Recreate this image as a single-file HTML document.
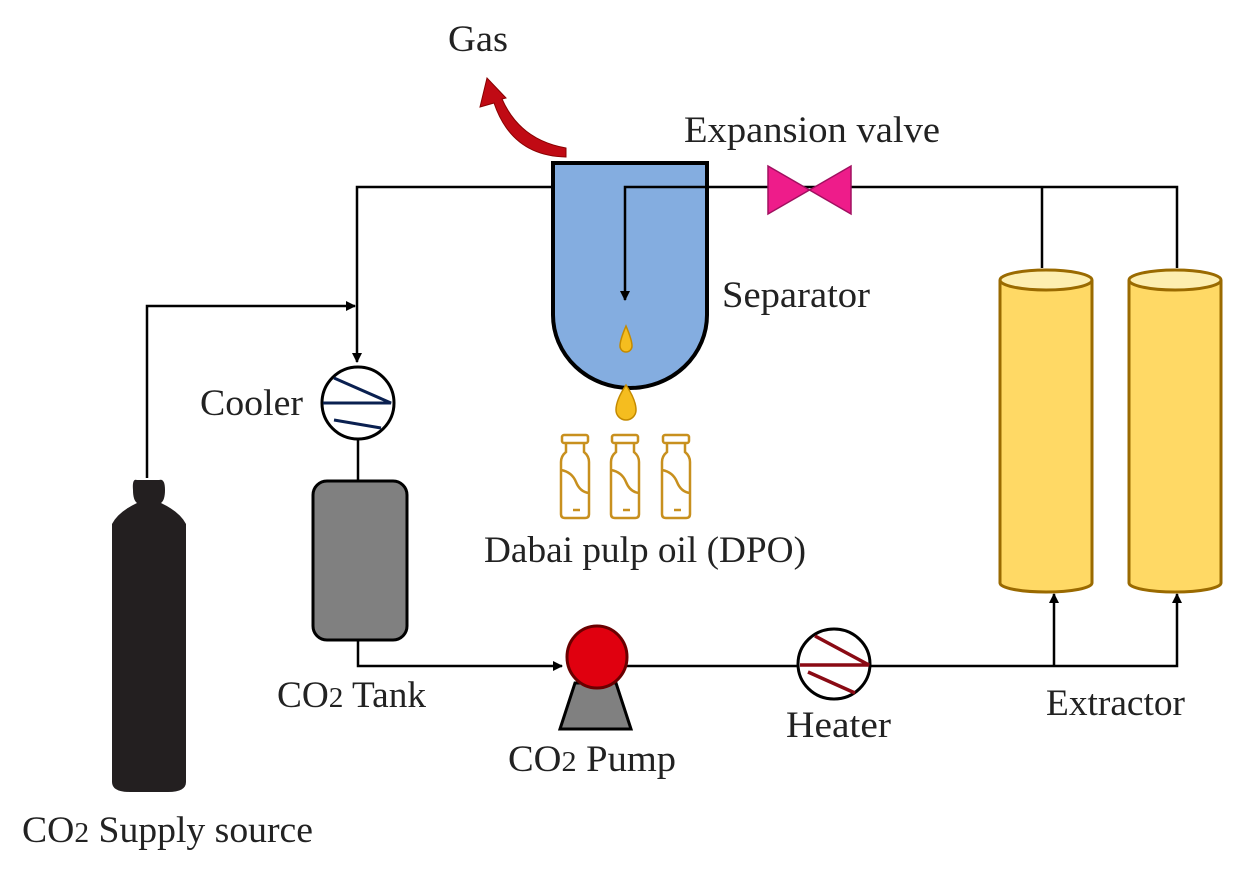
<!DOCTYPE html>
<html><head><meta charset="utf-8"><style>
html,body{margin:0;padding:0;background:#fff;}
svg{display:block;}
text{font-family:"Liberation Serif",serif;fill:#222;}
</style></head><body>
<svg width="1256" height="874" viewBox="0 0 1256 874" xmlns="http://www.w3.org/2000/svg">
<defs>
<marker id="ah" markerWidth="10" markerHeight="10" refX="9" refY="5" orient="auto" markerUnits="userSpaceOnUse"><path d="M0,0 L10,5 L0,10 Z" fill="#000"/></marker>
</defs>
<g stroke="#000" stroke-width="2.5" fill="none">
<path d="M553,187 H357 V362" marker-end="url(#ah)"/>
<path d="M707,187 H1177 V268"/>
<path d="M1042,187 V268"/>
<path d="M147,478 V306 H355" marker-end="url(#ah)"/>
<path d="M358,440 V482"/>
<path d="M358,640 V666 H562" marker-end="url(#ah)"/>
<path d="M620,666 H1177 V594" marker-end="url(#ah)"/>
<path d="M1054,666 V594" marker-end="url(#ah)"/>
</g>
<path d="M553,163 H707 V315 A77,73 0 0 1 553,315 Z" fill="#84ade0" stroke="#000" stroke-width="4"/>
<path d="M707,187 H625 V300" stroke="#000" stroke-width="2.5" fill="none" marker-end="url(#ah)"/>
<path d="M626,326 Q620,340 620,346 A6,6 0 0 0 632,346 Q632,340 626,326 Z" fill="#f5bd1f" stroke="#c48a00" stroke-width="1.5"/>
<path d="M626,385 Q616,400 616,410 A10,10 0 0 0 636,410 Q636,400 626,385 Z" fill="#f5bd1f" stroke="#c48a00" stroke-width="1.5"/>
<path d="M566,157 Q512,156 494,103 L480,107 L487,78 L506,98 L502,99 Q520,140 566,148 Z" fill="#c00a14" stroke="#800" stroke-width="1"/>
<path d="M768,166 L851,214 V166 L768,214 Z" fill="#ee1c8a" stroke="#a01060" stroke-width="1.5"/>
<g fill="none" stroke="#c8901e" stroke-width="2.5">
<g id="v1"><rect x="562" y="435" width="26" height="8" rx="2"/><path d="M566,443 V452 Q561,456 561,462 V514 Q561,518 565,518 H585 Q589,518 589,514 V462 Q589,456 584,452 V443"/><path d="M561,470 Q572,472 576,482 Q580,492 589,493"/><path d="M573,510 H580"/></g>
<use href="#v1" x="50"/><use href="#v1" x="101"/>
</g>
<circle cx="358" cy="403" r="36" fill="#fff" stroke="#000" stroke-width="3"/>
<path d="M334,378 L391,403 L323,403 M334,420 L381,428" stroke="#0a2050" stroke-width="3" fill="none"/>
<rect x="313" y="481" width="94" height="159" rx="14" fill="#808080" stroke="#000" stroke-width="3"/>
<path d="M137,480 Q132,478 133,490 Q133,500 137,503 Q118,512 112,524 V782 Q112,792 130,792 H168 Q186,792 186,782 V524 Q180,512 161,503 Q165,500 165,490 Q165,478 159,480 Z" fill="#231f20"/>
<path d="M575,683 H616 L631,729 H560 Z" fill="#808080" stroke="#000" stroke-width="3"/>
<ellipse cx="597" cy="657" rx="30" ry="31" fill="#e0000f" stroke="#6a0000" stroke-width="3"/>
<ellipse cx="834" cy="664" rx="36" ry="35" fill="#fff" stroke="#000" stroke-width="3"/>
<path d="M815,636 L869,665 L800,665 M808,672 L855,693" stroke="#8a0a14" stroke-width="3.5" fill="none"/>
<g fill="#ffd965" stroke="#9a6a00" stroke-width="3">
<path d="M1000,280 V583 A46,9 0 0 0 1092,583 V280"/>
<ellipse cx="1046" cy="280" rx="46" ry="10" fill="#fdeeb0"/>
<path d="M1129,280 V583 A46,9 0 0 0 1221,583 V280"/>
<ellipse cx="1175" cy="280" rx="46" ry="10" fill="#fdeeb0"/>
</g>
<g font-size="37">
<text x="448" y="51" textLength="60" lengthAdjust="spacingAndGlyphs">Gas</text>
<text x="684" y="142" textLength="256" lengthAdjust="spacingAndGlyphs">Expansion valve</text>
<text x="722" y="307" textLength="148" lengthAdjust="spacingAndGlyphs">Separator</text>
<text x="200" y="415" textLength="103" lengthAdjust="spacingAndGlyphs">Cooler</text>
<text x="484" y="562" textLength="322" lengthAdjust="spacingAndGlyphs">Dabai pulp oil (DPO)</text>
<text x="277" y="707" textLength="149" lengthAdjust="spacingAndGlyphs">CO<tspan font-size="29">2</tspan> Tank</text>
<text x="508" y="771" textLength="168" lengthAdjust="spacingAndGlyphs">CO<tspan font-size="29">2</tspan> Pump</text>
<text x="786" y="737" textLength="105" lengthAdjust="spacingAndGlyphs">Heater</text>
<text x="1046" y="715" textLength="139" lengthAdjust="spacingAndGlyphs">Extractor</text>
<text x="22" y="842" textLength="291" lengthAdjust="spacingAndGlyphs">CO<tspan font-size="29">2</tspan> Supply source</text>
</g>
</svg>
</body></html>
